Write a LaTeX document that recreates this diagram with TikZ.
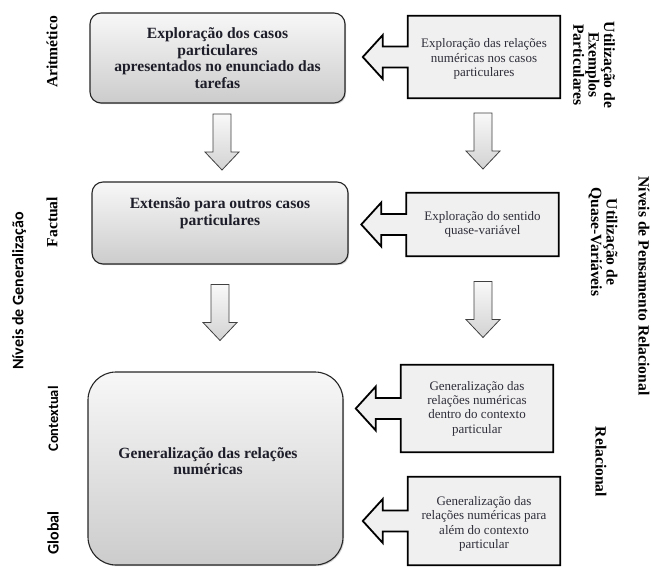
\documentclass[tikz,border=0pt]{standalone}
\usepackage{fontspec}
\setmainfont{Liberation Serif}
\newfontfamily\calib{Carlito}
\usetikzlibrary{calc,backgrounds,shadows}
\definecolor{txt}{HTML}{1E1E2A}
\definecolor{ctxt}{HTML}{2E2E3A}
\tikzset{
  bigbox/.style={draw=black!85, line width=1.1pt, top color=gray!6, bottom color=gray!40,
     drop shadow={shadow xshift=1.2pt, shadow yshift=-1.2pt, opacity=0.35}},
  boxtext/.style={font=\fontsize{15.6}{16.6}\selectfont\bfseries, text=txt, align=center},
  callbox/.style={minimum width=152pt, inner sep=0pt},
  callfill/.style={draw=black, line width=1.8pt, fill=gray!12, line join=miter},
  calltext/.style={font=\fontsize{13}{14.4}\selectfont, text=ctxt, align=center},
  blockarrow/.style={draw=black!75, line width=0.8pt, top color=gray!5, bottom color=gray!35},
  sidelbl/.style={font=\fontsize{15.6}{15.4}\selectfont\bfseries, text=black, align=center},
  sanslbl/.style={font=\calib\fontsize{14.5}{15}\selectfont\bfseries, text=black, align=center},
  downarrow/.pic={\path[blockarrow] (-9,-28) -- (9,-28) -- (9,10) -- (17,10) -- (0,28) -- (-17,10) -- (-9,10) -- cycle;}
}
\newcommand{\calloutpath}[1]{%
  \path[callfill] (#1.north west) -- (#1.north east) -- (#1.south east) -- (#1.south west)
    -- ($(#1.west)+(0,10.5)$) -- ++(-25,0) -- ++(0,11.5) -- ($(#1.west)+(-45,0)$)
    -- ($(#1.west)+(-25,-22)$) -- ++(0,11.5) -- ($(#1.west)+(0,-10.5)$) -- cycle;}
\begin{document}
\begin{tikzpicture}[x=1pt,y=-1pt]
\useasboundingbox (0,0) rectangle (651,567);

% left big boxes
\node[bigbox, rounded corners=11pt, minimum width=255pt, minimum height=90pt] (b1) at (217.5,58) {};
\node[boxtext] (b1t) at (217.5,58) {Exploração dos casos\\particulares\\apresentados no enunciado das\\tarefas};
\node[bigbox, rounded corners=11pt, minimum width=256pt, minimum height=82pt] (b2) at (220,223) {};
\node[boxtext] (b2t) at (220,213) {Extensão para outros casos\\particulares};
\node[bigbox, rounded corners=28pt, minimum width=255pt, minimum height=193pt] (b3) at (215.5,468.5) {};
\node[boxtext] (b3t) at (208,461) {Generalização das relações\\numéricas};

% callouts
\node[callbox, minimum height=82pt] (c1) at (484,57) {};
\node[callbox, minimum height=63pt] (c2) at (482.5,224.5) {};
\node[callbox, minimum height=87pt] (c3) at (477,408.5) {};
\node[callbox, minimum height=88pt] (c4) at (484,521) {};
\begin{pgfonlayer}{background}
\calloutpath{c1}
\calloutpath{c2}
\calloutpath{c3}
\calloutpath{c4}
\end{pgfonlayer}
\node[calltext] (c1t) at ($(c1)+(0,2)$) {Exploração das relações\\numéricas nos casos\\particulares};
\node[calltext] (c2t) at (c2) {Exploração do sentido\\quase-variável};
\node[calltext] (c3t) at (c3) {Generalização das\\relações numéricas\\dentro do contexto\\particular};
\node[calltext] (c4t) at ($(c4)+(0,3)$) {Generalização das\\relações numéricas para\\além do contexto\\particular};

% down block arrows
\pic (a1) at (222,142) {downarrow};
\pic (a2) at (483,141) {downarrow};
\pic (a3) at (220,312.5) {downarrow};
\pic (a4) at (483,309.5) {downarrow};

% left labels
\node[sidelbl, rotate=90] (lar) at (52,52) {Aritmético};
\node[sidelbl, rotate=90] (lfa) at (52,222) {Factual};
\node[sanslbl, rotate=90] (lco) at (53,419) {Contextual};
\node[sanslbl, font=\calib\fontsize{16}{16}\selectfont\bfseries, rotate=90] (lgl) at (53,533) {Global};
\node[sanslbl, font=\calib\fontsize{16}{16}\selectfont\bfseries, rotate=90] (lng) at (19,291) {Níveis de Generalização};

% right labels
\node[sidelbl, rotate=-90] (rue) at (594,65) {Utilização de\\Exemplos\\Particulares};
\node[sidelbl, rotate=-90] (ruq) at (603,242) {Utilização de\\Quase-Variáveis};
\node[sidelbl, rotate=-90] (rnp) at (644,286) {Níveis de Pensamento Relacional};
\node[sidelbl, rotate=-90] (rre) at (601,462) {Relacional};
\end{tikzpicture}
\end{document}
